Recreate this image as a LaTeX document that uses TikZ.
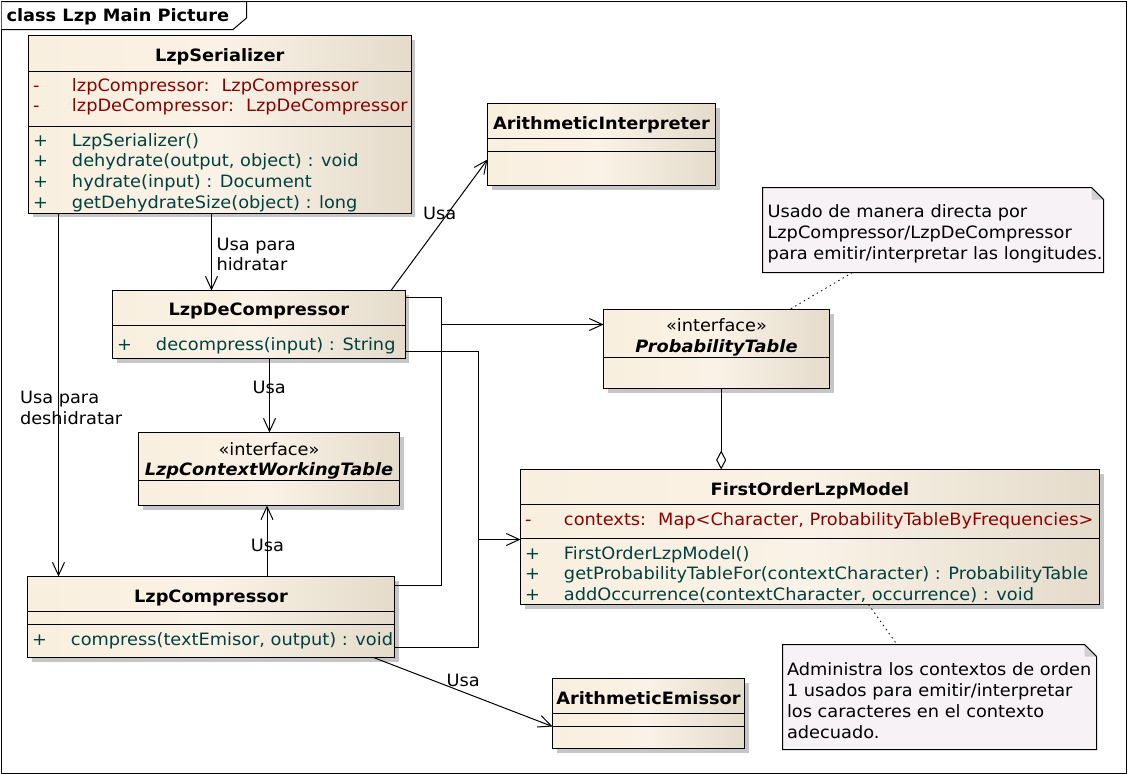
\documentclass[tikz,border=0pt]{standalone}
\usepackage{fontspec}
\setmainfont{DejaVu Sans}[FakeStretch=1.045]
\usetikzlibrary{arrows.meta,shadows,calc}
\definecolor{clsL}{HTML}{F9EFDF}
\definecolor{clsM}{HTML}{FAF2E6}
\definecolor{clsR}{HTML}{E4DBCB}
\definecolor{shadowc}{HTML}{C6C6C6}
\definecolor{notefill}{HTML}{F6F2F6}
\definecolor{foldc}{HTML}{D2D0D2}
\definecolor{attrc}{HTML}{8B0000}
\definecolor{methc}{HTML}{004040}
\newcommand\myfs[1]{\fontsize{17}{#1}\selectfont\setbox\strutbox\hbox{\vrule height.7\baselineskip depth.3\baselineskip width0pt}}
\newcommand\mrows[1]{\begin{tabular}[t]{@{}p{39pt}@{}l@{}}#1\end{tabular}}
\newcommand\lrows[1]{\begin{tabular}[t]{@{}l@{}}#1\end{tabular}}
\newcommand\dognote[1]{%
  \draw[fill=notefill] (#1.north west) -- ($(#1.north east)+(-12,0)$) -- ($(#1.north east)+(0,12)$) -- (#1.south east) -- (#1.south west) -- cycle;
  \fill[foldc] ($(#1.north east)+(-12,0)$) -- ($(#1.north east)+(-12,12)$) -- ($(#1.north east)+(0,12)$) -- cycle;
  \draw ($(#1.north east)+(-12,0)$) -- ($(#1.north east)+(0,12)$);}
\begin{document}
\begin{tikzpicture}[x=1pt,y=-1pt,font=\myfs{20.8},line width=1pt,
  cls/.style={draw=black,left color=clsL,right color=clsR,middle color=clsM,
    drop shadow={shadow xshift=4pt,shadow yshift=-4pt,fill=shadowc,opacity=1},
    anchor=north west,inner sep=0pt,outer sep=0pt},
  notebox/.style={anchor=north west,inner sep=0pt,outer sep=0pt},
  ttl/.style={anchor=base,inner sep=0pt,font=\myfs{20.8}\bfseries},
  ttli/.style={anchor=base,inner sep=0pt,font=\myfs{20.8}\bfseries\itshape},
  stereo/.style={anchor=base,inner sep=0pt},
  mem/.style={anchor=base west,inner sep=0pt},
  lbl/.style={anchor=base west,inner sep=0pt},
  clbl/.style={anchor=base,inner sep=0pt},
  dep/.style={-{Straight Barb[length=13pt,width=12pt]}},
  agg/.style={-{Diamond[open,length=19pt,width=10pt]}},
  anchorline/.style={line width=0.8pt,dash pattern=on 1.5pt off 3.5pt}]
\useasboundingbox (0,0) rectangle (1128,774);
% frame
\draw (1.5,1.5) rectangle (1126.5,773);
\draw[fill=white] (1.5,1.5) -- (246.5,1.5) -- (246.5,18) -- (233,29.5) -- (1.5,29.5);
\node[lbl,font=\myfs{20.8}\bfseries] (flabel) at (6,21) {class Lzp Main Picture};

% LzpSerializer
\node[cls,minimum width=382.5pt,minimum height=177.5pt] (ser) at (28.5,35.5) {};
\draw ($(ser.north west)+(0,35.5)$) -- ($(ser.north east)+(0,35.5)$);
\draw ($(ser.north west)+(0,90.5)$) -- ($(ser.north east)+(0,90.5)$);
\node[ttl] (serT) at (219.7,61) {LzpSerializer};
\node[mem,text=attrc] (serA) at (32.5,91) {\mrows{-&lzpCompressor:\hspace{12pt}LzpCompressor\\-&lzpDeCompressor:\hspace{12pt}LzpDeCompressor}};
\node[mem,text=methc] (serM) at (32.5,146) {\mrows{+&LzpSerializer()\\+&dehydrate(output, object) : void\\+&hydrate(input) : Document\\+&getDehydrateSize(object) : long}};

% ArithmeticInterpreter
\node[cls,minimum width=228pt,minimum height=82pt] (interp) at (487.5,103.5) {};
\draw ($(interp.north west)+(0,35)$) -- ($(interp.north east)+(0,35)$);
\draw ($(interp.north west)+(0,48)$) -- ($(interp.north east)+(0,48)$);
\node[ttl] (interpT) at (601.5,129.3) {ArithmeticInterpreter};

% LzpDeCompressor
\node[cls,minimum width=292.5pt,minimum height=68pt] (dec) at (112.5,290.5) {};
\draw ($(dec.north west)+(0,35.2)$) -- ($(dec.north east)+(0,35.2)$);
\node[ttl] (decT) at (258.8,315.7) {LzpDeCompressor};
\node[mem,text=methc] (decM) at (116.5,350) {\mrows{+&decompress(input) : String}};

% LzpContextWorkingTable
\node[cls,minimum width=261pt,minimum height=73pt] (ctx) at (138.5,432.5) {};
\draw ($(ctx.north west)+(0,48.2)$) -- ($(ctx.north east)+(0,48.2)$);
\node[stereo] (ctxS) at (269,455) {«interface»};
\node[ttli] (ctxT) at (269,475) {LzpContextWorkingTable};

% LzpCompressor
\node[cls,minimum width=367pt,minimum height=81pt] (comp) at (27.5,576.5) {};
\draw ($(comp.north west)+(0,34.8)$) -- ($(comp.north east)+(0,34.8)$);
\draw ($(comp.north west)+(0,47.8)$) -- ($(comp.north east)+(0,47.8)$);
\node[ttl] (compT) at (211,602) {LzpCompressor};
\node[mem,text=methc] (compM) at (31.5,645) {\mrows{+&compress(textEmisor, output) : void}};

% ProbabilityTable
\node[cls,minimum width=226pt,minimum height=79pt] (prob) at (603.5,309.5) {};
\draw ($(prob.north west)+(0,48)$) -- ($(prob.north east)+(0,48)$);
\node[stereo] (probS) at (716.5,331.7) {«interface»};
\node[ttli] (probT) at (716.5,352.7) {ProbabilityTable};

% FirstOrderLzpModel
\node[cls,minimum width=579pt,minimum height=135pt] (model) at (520.5,469.5) {};
\draw ($(model.north west)+(0,35)$) -- ($(model.north east)+(0,35)$);
\draw ($(model.north west)+(0,69.2)$) -- ($(model.north east)+(0,69.2)$);
\node[ttl] (modelT) at (810,495) {FirstOrderLzpModel};
\node[mem,text=attrc] (modelA) at (524.5,525) {\mrows{-&contexts:\hspace{12pt}Map<Character, ProbabilityTableByFrequencies>}};
\node[mem,text=methc] (modelM) at (524.5,559) {\mrows{+&FirstOrderLzpModel()\\+&getProbabilityTableFor(contextCharacter) : ProbabilityTable\\+&addOccurrence(contextCharacter, occurrence) : void}};

% ArithmeticEmissor
\node[cls,minimum width=192pt,minimum height=70pt] (emis) at (552.5,678.5) {};
\draw ($(emis.north west)+(0,34.8)$) -- ($(emis.north east)+(0,34.8)$);
\draw ($(emis.north west)+(0,47.8)$) -- ($(emis.north east)+(0,47.8)$);
\node[ttl] (emisT) at (648.5,704.3) {ArithmeticEmissor};

% notes
\node[notebox,minimum width=341pt,minimum height=85pt] (note1) at (762.5,187.5) {};
\dognote{note1}
\node[lbl,font=\myfs{21.3}] (note1T) at (767,217.3) {\lrows{Usado de manera directa por\\LzpCompressor/LzpDeCompressor\\para emitir/interpretar las longitudes.}};
\node[notebox,minimum width=314pt,minimum height=105pt] (note2) at (782.5,644.5) {};
\dognote{note2}
\node[lbl,font=\myfs{21}] (note2T) at (786.5,675) {\lrows{Administra los contextos de orden\\1 usados para emitir/interpretar\\los caracteres en el contexto\\adecuado.}};

% connectors
\coordinate (j1) at ($(prob.north west)+(-162,15)$);
\coordinate (j2) at ($(model.north west)+(-42,70)$);
\draw[dep] ($(ser.south west)+(30,0)$) -- ($(comp.north west)+(31,0)$);
\draw[dep] ($(ser.south west)+(183,0)$) -- ($(dec.north west)+(99,0)$);
\draw[dep] ($(dec.south west)+(157,0)$) -- ($(ctx.north west)+(131,0)$);
\draw[dep] ($(comp.north west)+(239.5,0)$) -- ($(ctx.south west)+(128.5,0)$);
\draw[dep] ($(dec.north west)+(278.5,0)$) -- ($(interp.north west)+(0,56)$);
\draw ($(dec.north east)+(0,7)$) -| (j1) |- ($(comp.north east)+(0,9)$);
\draw[dep] (j1) -- ($(prob.north west)+(0,15)$);
\draw ($(dec.south east)+(0,-7)$) -| (j2) |- ($(comp.south east)+(0,-10)$);
\draw[dep] (j2) -- ($(model.north west)+(0,70)$);
\draw[dep] ($(comp.south west)+(346,0)$) -- ($(emis.south west)+(0,-22)$);
\draw[agg] ($(prob.south west)+(117.7,0)$) -- ($(model.north west)+(200.7,0)$);
\draw[anchorline] ($(note1.south west)+(90,0)$) -- ($(prob.north west)+(186,0)$);
\draw[anchorline] ($(model.south west)+(348,0)$) -- ($(note2.north west)+(114.5,0)$);

% connector labels
\node[lbl] (l1) at (216,250) {\lrows{Usa para\\hidratar}};
\node[lbl] (l2) at (19.5,403.3) {\lrows{Usa para\\deshidratar}};
\node[clbl] (l3) at (269.2,393.3) {Usa};
\node[clbl] (l4) at (267.5,551) {Usa};
\node[clbl] (l5) at (463.3,686.7) {Usa};
\node[clbl] (l6) at (439.7,219) {Usa};
\end{tikzpicture}
\end{document}
